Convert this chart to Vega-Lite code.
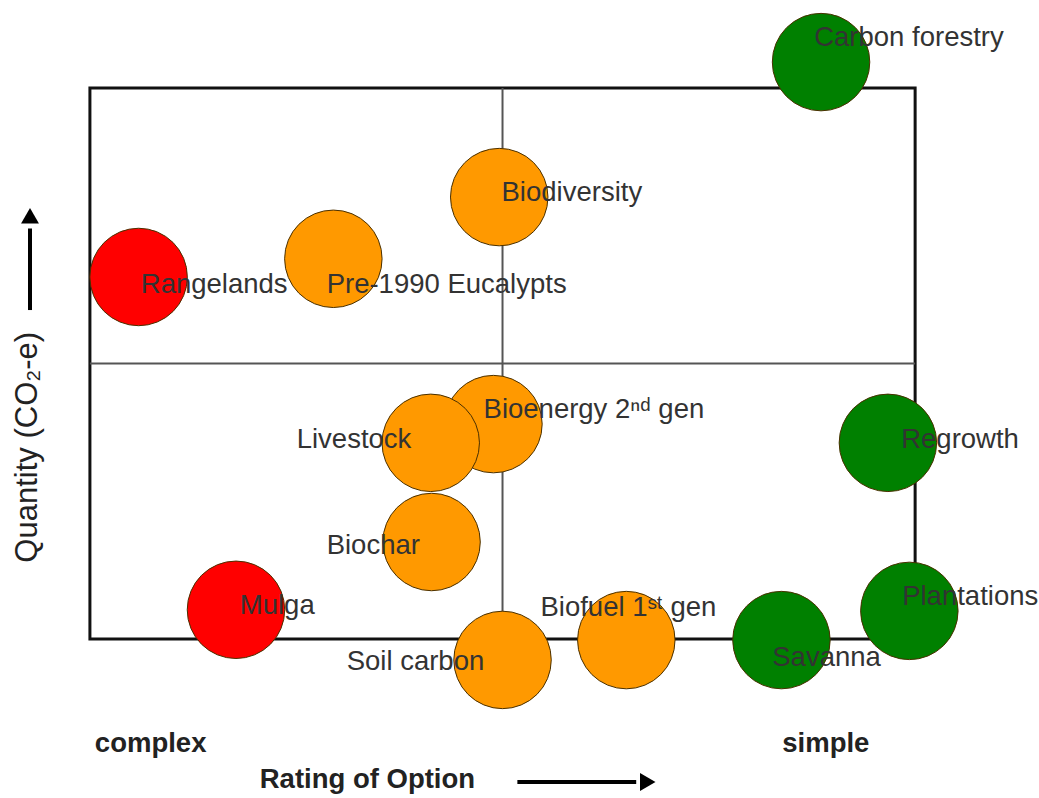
{
  "$schema": "https://vega.github.io/schema/vega-lite/v6.json",
  "width": 1039,
  "height": 798,
  "autosize": {"type": "fit", "contains": "padding"},
  "padding": 0,
  "background": "white",
  "config": {"view": {"stroke": null}},
  "datasets": {
    "box": [{"x0": 0, "x1": 10, "y0": 0, "y1": 10}],
    "vmid": [{"x": 5, "y0": 0, "y1": 10}],
    "hmid": [{"y": 5, "x0": 0, "x1": 10}],
    "options": [
      {"name": "Carbon forestry", "group": "green", "x": 8.86, "y": 10.47, "lx": 8.777, "ly": 10.907},
      {"name": "Biodiversity", "group": "orange", "x": 4.96, "y": 8.02, "lx": 4.988, "ly": 8.094},
      {"name": "Rangelands", "group": "red", "x": 0.59, "y": 6.57, "lx": 0.617, "ly": 6.425},
      {"name": "Pre-1990 Eucalypts", "group": "orange", "x": 2.95, "y": 6.9, "lx": 2.869, "ly": 6.425},
      {"name": "Bioenergy 2ⁿᵈ gen", "group": "orange", "x": 4.89, "y": 3.9, "lx": 4.77, "ly": 4.156},
      {"name": "Livestock", "group": "orange", "x": 4.13, "y": 3.56, "lx": 2.506, "ly": 3.612},
      {"name": "Biochar", "group": "orange", "x": 4.14, "y": 1.76, "lx": 2.869, "ly": 1.688},
      {"name": "Mulga", "group": "red", "x": 1.77, "y": 0.53, "lx": 1.816, "ly": 0.599},
      {"name": "Soil carbon", "group": "orange", "x": 5.0, "y": -0.38, "lx": 3.111, "ly": -0.417},
      {"name": "Biofuel 1ˢᵗ gen", "group": "orange", "x": 6.5, "y": -0.02, "lx": 5.46, "ly": 0.563},
      {"name": "Savanna", "group": "green", "x": 8.38, "y": -0.02, "lx": 8.269, "ly": -0.345},
      {"name": "Regrowth", "group": "green", "x": 9.67, "y": 3.56, "lx": 9.831, "ly": 3.612},
      {"name": "Plantations", "group": "green", "x": 9.93, "y": 0.51, "lx": 9.843, "ly": 0.762}
    ],
    "xlabels": [
      {"text": "complex", "x": 0.06, "y": -1.906},
      {"text": "simple", "x": 8.39, "y": -1.906},
      {"text": "Rating of Option", "x": 2.058, "y": -2.559}
    ],
    "xarrow": [{"x0": 5.18, "x1": 6.62, "y": -2.595, "hx": 6.76}],
    "ytitle": [{"text": "Quantity (CO₂-e)", "x": -0.75, "y": 3.48}],
    "yarrow": [{"x": -0.726, "y0": 5.97, "y1": 7.45, "hy": 7.68}]
  },
  "layer": [
    {
      "data": {"name": "box"},
      "mark": {"type": "rect", "fill": null, "stroke": "#111111", "strokeWidth": 3},
      "encoding": {
        "x": {"field": "x0", "type": "quantitative", "scale": {"domain": [-1.0896, 11.489], "nice": false, "zero": false}, "axis": null},
        "x2": {"field": "x1"},
        "y": {"field": "y0", "type": "quantitative", "scale": {"domain": [-2.886, 11.597], "nice": false, "zero": false}, "axis": null},
        "y2": {"field": "y1"}
      }
    },
    {
      "data": {"name": "vmid"},
      "mark": {"type": "rule", "stroke": "#555555", "strokeWidth": 2},
      "encoding": {
        "x": {"field": "x", "type": "quantitative"},
        "y": {"field": "y0", "type": "quantitative"},
        "y2": {"field": "y1"}
      }
    },
    {
      "data": {"name": "hmid"},
      "mark": {"type": "rule", "stroke": "#555555", "strokeWidth": 2},
      "encoding": {
        "y": {"field": "y", "type": "quantitative"},
        "x": {"field": "x0", "type": "quantitative"},
        "x2": {"field": "x1"}
      }
    },
    {
      "data": {"name": "options"},
      "mark": {"type": "circle", "size": 9500, "opacity": 1, "stroke": "#4a3000", "strokeWidth": 1},
      "encoding": {
        "x": {"field": "x", "type": "quantitative"},
        "y": {"field": "y", "type": "quantitative"},
        "color": {"field": "group", "type": "nominal", "scale": {"domain": ["green", "orange", "red"], "range": ["#008000", "#FF9900", "#FF0000"]}, "legend": null}
      }
    },
    {
      "data": {"name": "options"},
      "mark": {"type": "text", "align": "left", "baseline": "middle", "font": "Liberation Sans", "fontSize": 27.5, "fill": "#333333"},
      "encoding": {
        "x": {"field": "lx", "type": "quantitative"},
        "y": {"field": "ly", "type": "quantitative"},
        "text": {"field": "name"}
      }
    },
    {
      "data": {"name": "xlabels"},
      "mark": {"type": "text", "align": "left", "baseline": "middle", "font": "Liberation Sans", "fontSize": 27.5, "fontWeight": "bold", "fill": "#222222"},
      "encoding": {
        "x": {"field": "x", "type": "quantitative"},
        "y": {"field": "y", "type": "quantitative"},
        "text": {"field": "text"}
      }
    },
    {
      "data": {"name": "xarrow"},
      "mark": {"type": "rule", "stroke": "#000000", "strokeWidth": 4},
      "encoding": {
        "x": {"field": "x0", "type": "quantitative"},
        "x2": {"field": "x1"},
        "y": {"field": "y", "type": "quantitative"}
      }
    },
    {
      "data": {"name": "xarrow"},
      "mark": {"type": "point", "shape": "triangle-right", "filled": true, "fill": "#000000", "size": 320, "opacity": 1},
      "encoding": {
        "x": {"field": "hx", "type": "quantitative"},
        "y": {"field": "y", "type": "quantitative"}
      }
    },
    {
      "data": {"name": "ytitle"},
      "mark": {"type": "text", "align": "center", "baseline": "middle", "angle": 270, "font": "Liberation Sans", "fontSize": 31, "fill": "#222222"},
      "encoding": {
        "x": {"field": "x", "type": "quantitative"},
        "y": {"field": "y", "type": "quantitative"},
        "text": {"field": "text"}
      }
    },
    {
      "data": {"name": "yarrow"},
      "mark": {"type": "rule", "stroke": "#000000", "strokeWidth": 4},
      "encoding": {
        "x": {"field": "x", "type": "quantitative"},
        "y": {"field": "y0", "type": "quantitative"},
        "y2": {"field": "y1"}
      }
    },
    {
      "data": {"name": "yarrow"},
      "mark": {"type": "point", "shape": "triangle-up", "filled": true, "fill": "#000000", "size": 320, "opacity": 1},
      "encoding": {
        "x": {"field": "x", "type": "quantitative"},
        "y": {"field": "hy", "type": "quantitative"}
      }
    }
  ]
}
